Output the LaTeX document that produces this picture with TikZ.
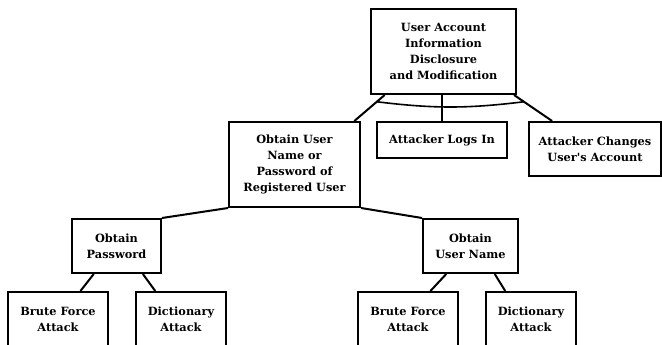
\documentclass[tikz,border=0pt]{standalone}
\usepackage{fontspec}
\usepackage{tikz}
\usetikzlibrary{calc}
\newfontfamily\boxfont{DejaVu Serif}[Ligatures=TeXOff]

\begin{document}
\begin{tikzpicture}[
    x=0.75pt, y=0.75pt,
    goal/.style={
        rectangle, draw=black, line width=1.5pt, inner sep=0pt,
        minimum height=40.5pt, align=center,
        font=\boxfont\bfseries\fontsize{8.5}{12}\selectfont
    },
    biggoal/.style={goal, minimum height=63.75pt},
    flatgoal/.style={goal, minimum height=27pt},
    edge/.style={line width=1.5pt, black},
    andarc/.style={line width=1.2pt, black}
]
\useasboundingbox (0,0) rectangle (662,-345);

% ===================================================================
% Top goal and its AND children
% ===================================================================
\node[biggoal, minimum width=108.75pt] (root) at (443.5,-51.5)
    {User Account\\Information\\Disclosure\\and Modification};

\node[biggoal, minimum width=98.25pt] (obtain) at (294.5,-164.5)
    {Obtain User\\Name or\\Password of\\Registered User};
\node[flatgoal, minimum width=97.5pt] (login) at (442,-140)
    {Attacker Logs In};
\node[goal, minimum width=99pt] (change) at (595,-149)
    {Attacker Changes\\User\textquotesingle s Account};

\draw[edge] ($(root.south west)!0.10!(root.south east)$) coordinate (rootL)
    -- ($(obtain.north west)!0.95!(obtain.north east)$) coordinate (obtainT);
\draw[edge] (root.south -| login.north) -- (login.north);
\draw[edge] ($(root.south west)!0.98!(root.south east)$) coordinate (rootR)
    -- ($(change.north west)!0.18!(change.north east)$) coordinate (changeT);

% AND arc
\draw[andarc] ($(rootL)!0.26!(obtainT)$) to[bend right=7]
    ($(rootR)!0.26!(changeT)$);

% ===================================================================
% Second level: password / user name (OR)
% ===================================================================
\node[goal, minimum width=66.75pt] (pass) at (116.5,-246)
    {Obtain\\Password};
\node[goal, minimum width=71.25pt] (uname) at (470.5,-246)
    {Obtain\\User Name};

\draw[edge] (obtain.south west) -- (pass.north east);
\draw[edge] (obtain.south east) -- (uname.north west);

% ===================================================================
% Leaves
% ===================================================================
\node[goal, minimum width=75pt] (brute1) at (58,-319) {Brute Force\\Attack};
\node[goal, minimum width=67.5pt] (dict1) at (181,-319) {Dictionary\\Attack};
\node[goal, minimum width=75pt] (brute2) at (408,-319) {Brute Force\\Attack};
\node[goal, minimum width=67.5pt] (dict2) at (531,-319) {Dictionary\\Attack};

\draw[edge] ($(pass.south west)!0.25!(pass.south east)$)
    -- ($(brute1.north west)!0.72!(brute1.north east)$);
\draw[edge] ($(pass.south west)!0.79!(pass.south east)$)
    -- ($(dict1.north west)!0.22!(dict1.north east)$);
\draw[edge] ($(uname.south west)!0.25!(uname.south east)$)
    -- ($(brute2.north west)!0.72!(brute2.north east)$);
\draw[edge] ($(uname.south west)!0.75!(uname.south east)$)
    -- ($(dict2.north west)!0.22!(dict2.north east)$);

\end{tikzpicture}
\end{document}
